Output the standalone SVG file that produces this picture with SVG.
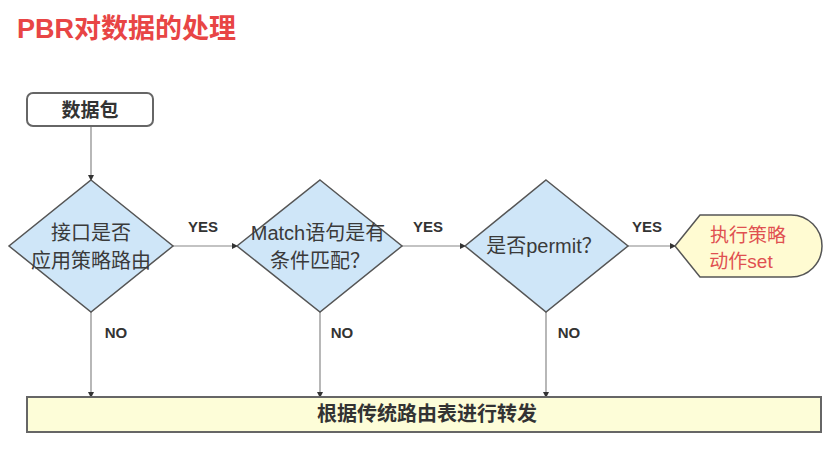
<svg xmlns="http://www.w3.org/2000/svg" width="839" height="450" viewBox="0 0 839 450">
<style>
.t{font-family:"Liberation Sans","Noto Sans CJK SC",sans-serif}
.dia{fill:#cfe6f8;stroke:#555;stroke-width:1.5}
.dt{font-size:20px;fill:#3a3a3a;text-anchor:middle}
.lab{font-size:15px;font-weight:bold;fill:#333;text-anchor:middle}
.ln{stroke:#888;stroke-width:1.2;fill:none}
</style>
<defs>
<marker id="ar" viewBox="0 0 6 6" refX="5" refY="3" markerWidth="5" markerHeight="5" orient="auto"><path d="M0,0L6,3L0,6z" fill="#333"/></marker>
</defs>
<rect width="839" height="450" fill="#fff"/>
<text class="t" x="17" y="38" font-size="27" font-weight="bold" fill="#e84545">PBR对数据的处理</text>
<g id="connectors">
<line class="ln" x1="91" y1="126" x2="91" y2="180" marker-end="url(#ar)"/>
<line class="ln" x1="173" y1="246" x2="237" y2="246" marker-end="url(#ar)"/>
<line class="ln" x1="402" y1="246" x2="465" y2="246" marker-end="url(#ar)"/>
<line class="ln" x1="628" y1="246" x2="675" y2="246" marker-end="url(#ar)"/>
<line class="ln" x1="91" y1="312" x2="91" y2="397" marker-end="url(#ar)"/>
<line class="ln" x1="320" y1="312" x2="320" y2="397" marker-end="url(#ar)"/>
<line class="ln" x1="546" y1="312" x2="546" y2="397" marker-end="url(#ar)"/>
<text class="t lab" x="203" y="232">YES</text>
<text class="t lab" x="428" y="232">YES</text>
<text class="t lab" x="647" y="232">YES</text>
<text class="t lab" x="116" y="338">NO</text>
<text class="t lab" x="342" y="338">NO</text>
<text class="t lab" x="569" y="338">NO</text>
</g>
<g id="packet">
<rect x="27" y="93" width="126" height="33" rx="6" fill="#fff" stroke="#666" stroke-width="2"/>
<text class="t" x="90" y="117" font-size="19" font-weight="bold" fill="#333" text-anchor="middle">数据包</text>
</g>
<g id="d1">
<polygon class="dia" points="91,180 173,246 91,312 9,246"/>
<text class="t dt" x="91" y="240">接口是否</text>
<text class="t dt" x="91" y="268">应用策略路由</text>
</g>
<g id="d2">
<polygon class="dia" points="320,180 402,246 320,312 237,246"/>
<text class="t dt" x="318" y="240">Match语句是有</text>
<text class="t dt" x="320" y="268">条件匹配？</text>
</g>
<g id="d3">
<polygon class="dia" points="546,180 628,246 546,312 465,246"/>
<text class="t dt" x="544" y="253">是否permit？</text>
</g>
<g id="action">
<path d="M675,246 L700,215 L791,215 A31,31 0 0 1 791,277 L700,277 Z" fill="#fffbd2" stroke="#555" stroke-width="1.5"/>
<text class="t" x="748" y="242" font-size="19" fill="#e05050" text-anchor="middle">执行策略</text>
<text class="t" x="741" y="268" font-size="19" fill="#e05050" text-anchor="middle">动作set</text>
</g>
<g id="forward">
<rect x="27" y="397" width="794" height="35" fill="#fdfdd8" stroke="#666" stroke-width="2"/>
<text class="t" x="427" y="421" font-size="20" font-weight="bold" fill="#333" text-anchor="middle">根据传统路由表进行转发</text>
</g>
</svg>
